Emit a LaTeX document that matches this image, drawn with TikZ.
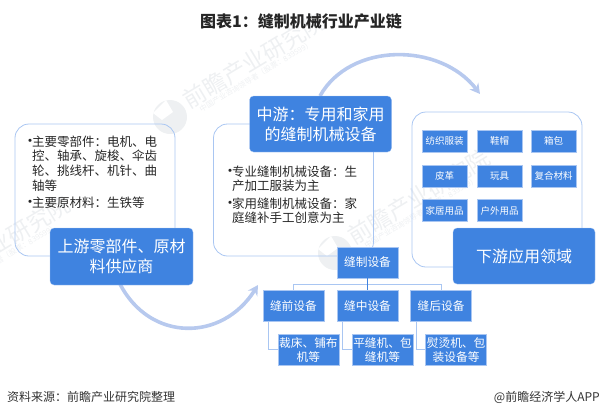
\documentclass[tikz,border=0pt]{standalone}
\usepackage{fontspec}
\usepackage{xcolor}
\setmainfont{Noto Sans CJK SC}
\usetikzlibrary{arrows.meta,positioning,calc}
\definecolor{chainblue}{HTML}{3F83E0}
\definecolor{edgeblue}{HTML}{A9C6F2}
\definecolor{arcblue}{HTML}{B7C9EE}
\definecolor{markgray}{HTML}{EEF0F2}
\newcommand{\itemdot}{\makebox[6.5pt][l]{\hspace{-3pt}\fontsize{15}{15}\selectfont\textbullet}}
\newcommand{\itemgap}{\hspace*{6.5pt}}
\tikzset{
  panel/.style={draw=edgeblue, line width=0.8pt, rounded corners=14pt},
  headbox/.style={fill=chainblue, draw=edgeblue, line width=0.3pt, rounded corners=4pt, text=white, inner sep=0pt, align=center, font=\fontsize{16}{20}\selectfont},
  appbox/.style={fill=chainblue, draw=edgeblue, line width=0.6pt, text=white, inner sep=0pt, minimum width=45pt, minimum height=22pt, font=\fontsize{9.5}{11}\selectfont},
  seambox/.style={fill=chainblue, draw=edgeblue, line width=0.6pt, text=white, inner sep=0pt, minimum width=61pt, minimum height=31pt, align=center, font=\fontsize{11.7}{14}\selectfont},
  bullets/.style={anchor=north west, inner sep=0pt, align=left, text=black!85, font=\fontsize{12.5}{14.7}\selectfont},
  treeline/.style={draw=edgeblue, line width=1pt},
  flowarc/.style={draw=arcblue, line width=3.6pt, -{Stealth[length=10pt,width=11pt]}}
}
\begin{document}
\begin{tikzpicture}[x=1pt,y=-1pt]
    \useasboundingbox (0,0) rectangle (600,413);

    % Watermarks
    \foreach \wid/\wx/\wy in {a/170/117, b/335/253, c/-85/300} {
        \fill[markgray] (\wx,\wy) circle (17pt);
        \fill[white] (\wx-4,\wy-17) -- (\wx+3,\wy-5) -- (\wx-8,\wy+3) -- (\wx-17,\wy-4) -- cycle;
        \node[rotate=31, anchor=west, inner sep=0pt, text=markgray, font=\fontsize{23}{23}\selectfont] (mark\wid) at (\wx+15,\wy-15) {前瞻产业研究院};
        \node[rotate=31, anchor=west, inner sep=0pt, text=markgray, font=\fontsize{7.5}{8}\selectfont] (sub\wid) at (\wx+30,\wy-7) {中国产业咨询领导者（股票：839599）};
    }

    % Title and source
    \node[font=\bfseries\fontsize{16}{18}\selectfont, text=black!85] (title) at (301,21.5) {图表1：缝制机械行业产业链};
    \node[anchor=west, inner sep=0pt, text=black!80, font=\fontsize{12}{14}\selectfont] (source) at (7,397) {资料来源：前瞻产业研究院整理};
    \node[anchor=east, inner sep=0pt, text=black!80, font=\fontsize{12}{14}\selectfont] (brand) at (600,397) {@前瞻经济学人APP};

    % Panels
    \node[panel, minimum width=160pt, minimum height=132pt] (upstream) at (95,190) {};
    \node[panel, minimum width=160pt, minimum height=132pt] (midstream) at (293.5,190) {};
    \node[panel, minimum width=170pt, minimum height=155pt] (downstream) at (497,189.5) {};

    % Flow arcs
    \coordinate (arcA) at (120,284);
    \coordinate (arcB) at (258,285);
    \coordinate (arcC) at (320,96);
    \coordinate (arcD) at (480,94);
    \draw[flowarc] (arcA) .. controls (150,342) and (222,342) .. (arcB);
    \draw[flowarc] (arcC) .. controls (350,42) and (440,42) .. (arcD);

    % Panel headers
    \node[headbox, minimum width=143pt, minimum height=57pt] (uphead) at (121.5,256.5) {上游零部件、原材\\料供应商};
    \node[headbox, minimum width=142pt, minimum height=56pt] (midhead) at (320.5,124) {中游：专用和家用\\的缝制机械设备};
    \node[headbox, minimum width=142pt, minimum height=56pt] (downhead) at (524,256) {下游应用领域};

    % Panel texts
    \node[bullets] (uptext) at (25.5,135.5) {\itemdot 主要零部件：电机、电\\\itemgap 控、轴承、旋梭、伞齿\\\itemgap 轮、挑线杆、机针、曲\\\itemgap 轴等\\[2pt]\itemdot 主要原材料：生铁等};
    \node[bullets] (midtext) at (225.5,165.5) {\itemdot 专业缝制机械设备：生\\\itemgap 产加工服装为主\\[2.5pt]\itemdot 家用缝制机械设备：家\\\itemgap 庭缝补手工创意为主};

    % Application fields
    \foreach \name/\x/\y/\txt in {cloth/444.5/141/纺织服装, shoe/499.5/141/鞋帽, bag/553.5/141/箱包,
        leather/444.5/176/皮革, toy/499.5/176/玩具, composite/553.5/176/复合材料,
        home/444.5/210.5/家居用品, outdoor/499.5/210.5/户外用品} {
        \node[appbox] (\name) at (\x,\y) {\txt};
    }

    % Sewing equipment tree
    \node[seambox] (seam) at (367.5,262.5) {缝制设备};
    \node[seambox, below=12pt of seam] (seammid) {缝中设备};
    \node[seambox, left=12.5pt of seammid] (seampre) {缝前设备};
    \node[seambox, right=12pt of seammid] (seampost) {缝后设备};
    \node[seambox, below=12pt of seampre, xshift=15pt] (cutter) {裁床、铺布\\机等};
    \node[seambox, below=12pt of seammid, xshift=15pt] (lockstitch) {平缝机、包\\缝机等};
    \node[seambox, below=12pt of seampost, xshift=15pt] (ironer) {熨烫机、包\\装设备等};

    \coordinate (bus) at ($(seam.south)!0.5!(seammid.north)$);
    \draw[treeline] (bus) -| (seampre.north);
    \draw[treeline] (bus) -| (seampost.north);
    \draw[draw=chainblue, line width=1pt] (seam.south) -- (seammid.north);
    \draw[treeline] ($(seampre.south west)+(6,0)$) |- (cutter.west);
    \draw[treeline] ($(seammid.south west)+(6,0)$) |- (lockstitch.west);
    \draw[treeline] ($(seampost.south west)+(6,0)$) |- (ironer.west);

\end{tikzpicture}
\end{document}
